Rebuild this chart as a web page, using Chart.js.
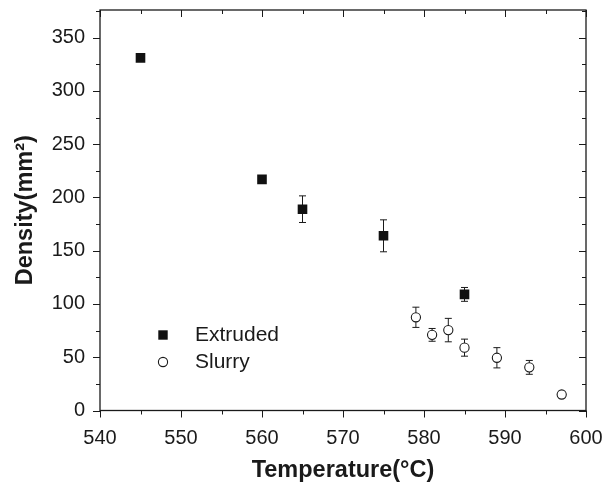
<!DOCTYPE html>
<html>
<head>
<meta charset="utf-8">
<script src="https://cdn.jsdelivr.net/npm/chart.js@4.4.1/dist/chart.umd.min.js"></script>
<style>
  html, body { margin: 0; padding: 0; background: #fff; }
  #wrap { width: 605px; height: 487px; }
</style>
</head>
<body>
<div id="wrap"><canvas id="chart-density"></canvas></div>
<script>
// values
const extrudedTemp = [545, 560, 565, 575, 585];
const extrudedDensity = [331, 217, 189, 164, 109];
const extrudedErr = [0, 0, 12.5, 15, 6.5];

const slurryTemp = [579, 581, 583, 585, 589, 593, 597];
const slurryDensity = [87.5, 71, 75.5, 59, 49.5, 40.5, 15];
const slurryErr = [9.5, 6, 11, 8, 9.5, 6.5, 3];

const xTicks = [540, 550, 560, 570, 580, 590, 600];
const yTicks = [0, 50, 100, 150, 200, 250, 300, 350];

const ink = '#1a1a1a';
const font = 'Liberation Sans, Arial, Helvetica, sans-serif';

const toPoints = (xs, ys) => xs.map((x, i) => ({ x: x, y: ys[i] }));

// chart.js pads the area for overflowing tick labels, we place it ourselves
const noScalePadding = s => {
    s.paddingTop = 0; s.paddingBottom = 0;
    s.paddingLeft = 0; s.paddingRight = 0;
};

// error bars, drawn under the markers
const errorBars = {
    id: 'errorBars',
    beforeDatasetsDraw(chart) {
        const ctx = chart.ctx;
        const xs = chart.scales.x, ys = chart.scales.y;
        ctx.save();
        ctx.strokeStyle = ink;
        ctx.lineWidth = 1;
        chart.data.datasets.forEach(ds => {
            ds.data.forEach((p, i) => {
                const e = ds.errors[i];
                if (!e) return;
                const px = xs.getPixelForValue(p.x);
                const top = ys.getPixelForValue(p.y + e);
                const bot = ys.getPixelForValue(p.y - e);
                ctx.beginPath();
                ctx.moveTo(px, top); ctx.lineTo(px, bot);
                ctx.moveTo(px - 3.5, top); ctx.lineTo(px + 3.5, top);
                ctx.moveTo(px - 3.5, bot); ctx.lineTo(px + 3.5, bot);
                ctx.stroke();
            });
        });
        ctx.restore();
    }
};

// frame with ticks: out on left/bottom, in on top/right
const frame = {
    id: 'frame',
    afterDraw(chart) {
        const ctx = chart.ctx;
        const a = chart.chartArea;
        const xs = chart.scales.x, ys = chart.scales.y;
        ctx.save();
        ctx.strokeStyle = ink;
        ctx.lineWidth = 1.3;
        ctx.strokeRect(a.left, a.top, a.right - a.left, a.bottom - a.top);
        ctx.lineWidth = 1;
        ctx.beginPath();
        const xStep = xTicks[1] - xTicks[0];
        for (let v = xTicks[0]; v <= xTicks[xTicks.length - 1]; v += xStep / 2) {
            const len = (v - xTicks[0]) % xStep === 0 ? 7 : 4;
            const px = Math.round(xs.getPixelForValue(v)) + 0.5;
            ctx.moveTo(px, a.bottom); ctx.lineTo(px, a.bottom + len);
            ctx.moveTo(px, a.top); ctx.lineTo(px, a.top + len);
        }
        const yStep = yTicks[1] - yTicks[0];
        for (let v = yTicks[0]; v <= ys.max; v += yStep / 2) {
            const len = v % yStep === 0 ? 7 : 4;
            const py = Math.round(ys.getPixelForValue(v)) + 0.5;
            ctx.moveTo(a.left, py); ctx.lineTo(a.left - len, py);
            ctx.moveTo(a.right, py); ctx.lineTo(a.right - len, py);
        }
        ctx.stroke();

        // legend inside the plot
        ctx.font = `21px ${font}`;
        ctx.textBaseline = 'middle';
        ctx.fillStyle = ink;
        chart.data.datasets.forEach((ds, i) => {
            const cy = 335 + i * 27;
            const cx = 163;
            if (ds.pointStyle === 'rect') {
                ctx.fillStyle = ds.backgroundColor;
                ctx.fillRect(cx - 4.7, cy - 4.7, 9.4, 9.4);
            } else {
                ctx.beginPath();
                ctx.arc(cx, cy, 4.6, 0, Math.PI * 2);
                ctx.fillStyle = '#fff';
                ctx.fill();
                ctx.strokeStyle = ink;
                ctx.lineWidth = 1.1;
                ctx.stroke();
            }
            ctx.fillStyle = ink;
            ctx.fillText(ds.label, 195, cy);
        });
        ctx.restore();
    }
};

new Chart(document.getElementById('chart-density').getContext('2d'), {
    type: 'scatter',
    data: {
        datasets: [
            {
                label: 'Extruded',
                data: toPoints(extrudedTemp, extrudedDensity),
                errors: extrudedErr,
                pointStyle: 'rect',
                pointRadius: 6.8,
                backgroundColor: '#111',
                borderColor: '#111',
                borderWidth: 0
            },
            {
                label: 'Slurry',
                data: toPoints(slurryTemp, slurryDensity),
                errors: slurryErr,
                pointStyle: 'circle',
                pointRadius: 4.6,
                backgroundColor: '#fff',
                borderColor: ink,
                borderWidth: 1.1
            }
        ]
    },
    options: {
        responsive: true,
        maintainAspectRatio: false,
        animation: false,
        layout: { padding: { top: 10, right: 19, left: 0, bottom: 0 } },
        plugins: {
            legend: { display: false },
            tooltip: { enabled: false }
        },
        scales: {
            x: {
                type: 'linear',
                min: 540,
                max: 600,
                afterFit: s => { s.height = 76.5; noScalePadding(s); },
                afterBuildTicks: s => { s.ticks = xTicks.map(v => ({ value: v })); },
                grid: { display: false, drawTicks: false },
                border: { display: false },
                ticks: { color: ink, font: { family: font, size: 20 }, padding: 16, maxRotation: 0 },
                title: {
                    display: true,
                    text: 'Temperature(°C)',
                    color: ink,
                    font: { family: font, size: 23.5, weight: 'bold' },
                    padding: { top: 0, bottom: 2 }
                }
            },
            y: {
                type: 'linear',
                min: 0,
                max: 376,
                afterFit: s => { s.width = 100; noScalePadding(s); },
                afterBuildTicks: s => { s.ticks = yTicks.map(v => ({ value: v })); },
                grid: { display: false, drawTicks: false },
                border: { display: false },
                ticks: { color: ink, font: { family: font, size: 20 }, padding: 15 },
                title: {
                    display: true,
                    text: 'Density(mm²)',
                    color: ink,
                    font: { family: font, size: 23.5, weight: 'bold' },
                    padding: { top: 11, bottom: 0 }
                }
            }
        }
    },
    plugins: [errorBars, frame]
});
</script>
</body>
</html>
